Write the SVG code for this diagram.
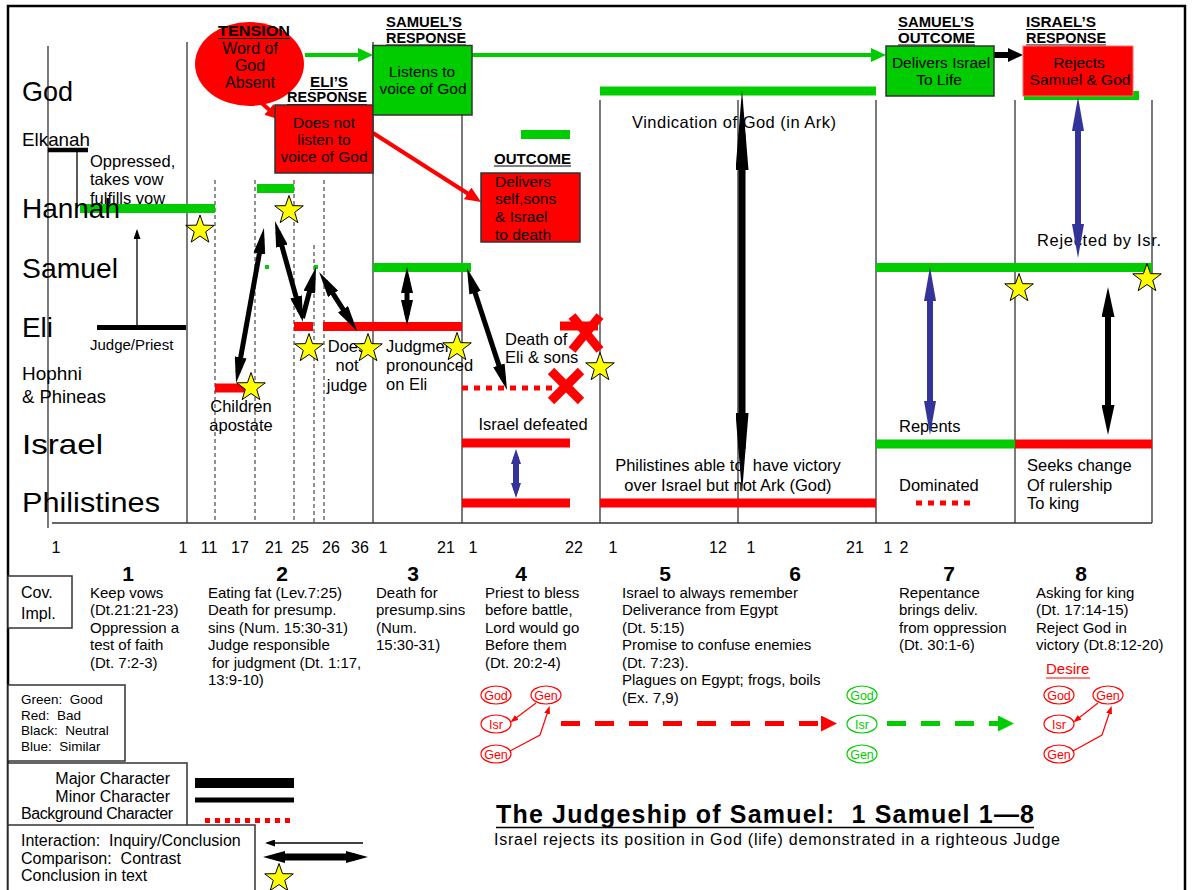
<svg xmlns="http://www.w3.org/2000/svg" width="1195" height="890" viewBox="0 0 1195 890">
<style>
text{font-family:"Liberation Sans",Arial,sans-serif;fill:#000}
.row{font-size:28px}
.rowS{font-size:19px}
.t{font-size:16.5px}
.bx{font-size:15.5px}
.hd{font-size:14px;font-weight:bold}
.bt{font-size:15px}
.num{font-size:16px}
.sec{font-size:21px;font-weight:bold}
.lg{font-size:13.5px}
.lg2{font-size:16px}
.mid{text-anchor:middle}
.grid{stroke:#333;stroke-width:1.3;fill:none}
.dsh{stroke:#222;stroke-width:1;stroke-dasharray:4 3;fill:none}
.gb{stroke:#00cc00;stroke-width:9;fill:none}
.rb{stroke:#ff0000;stroke-width:9;fill:none}
.rd{stroke:#ff0000;stroke-width:5;stroke-dasharray:6 6;fill:none}
.kb{stroke:#000;fill:none}
.ul{stroke:#000;stroke-width:1.2}
.ka{stroke:#000;stroke-width:5;fill:none}
.ba{stroke:#333399;stroke-width:6;fill:none}
.box{stroke:#333;stroke-width:1.5}
.star{fill:#ffff00;stroke:#000;stroke-width:1}
.xm{stroke:#ff0000;stroke-width:9}
.ovr{fill:#fff;stroke:#ff0000;stroke-width:1.2}
.ovg{fill:#fff;stroke:#00cc00;stroke-width:1.2}
.tr{font-size:12.5px;fill:#ff0000;text-anchor:middle}
.tg{font-size:12.5px;fill:#00cc00;text-anchor:middle}
.lgb{fill:#fff;stroke:#333;stroke-width:1.5}
</style>
<defs>
<polygon id="star" class="star" points="0,-15 3.53,-4.85 14.27,-4.64 5.71,1.85 8.82,12.14 0,6 -8.82,12.14 -5.71,1.85 -14.27,-4.64 -3.53,-4.85"/>
<marker id="mK" markerUnits="userSpaceOnUse" viewBox="0 0 26 12" markerWidth="26" markerHeight="12" refX="15" refY="6" orient="auto-start-reverse"><path d="M0,0L26,6L0,12z" fill="#000"/></marker>
<marker id="mKL" markerUnits="userSpaceOnUse" viewBox="0 0 30 13" markerWidth="30" markerHeight="13" refX="15" refY="6.5" orient="auto-start-reverse"><path d="M0,0L30,6.5L0,13z" fill="#000"/></marker>
<marker id="mKX" markerUnits="userSpaceOnUse" viewBox="0 0 80 13" markerWidth="80" markerHeight="13" refX="36" refY="6.5" orient="auto-start-reverse"><path d="M0,0L80,6.5L0,13z" fill="#000"/></marker>
<marker id="mKT" markerUnits="userSpaceOnUse" viewBox="0 0 15 14" markerWidth="15" markerHeight="14" refX="8" refY="7" orient="auto-start-reverse"><path d="M0,0L15,7L0,14z" fill="#000"/></marker>
<marker id="mB" markerUnits="userSpaceOnUse" viewBox="0 0 34 12" markerWidth="34" markerHeight="12" refX="17" refY="6" orient="auto-start-reverse"><path d="M0,0L34,6L0,12z" fill="#333399"/></marker>
<marker id="mBS" markerUnits="userSpaceOnUse" viewBox="0 0 15 10" markerWidth="15" markerHeight="10" refX="7" refY="5" orient="auto-start-reverse"><path d="M0,0L15,5L0,10z" fill="#333399"/></marker>
<marker id="mG" markerUnits="userSpaceOnUse" viewBox="0 0 15 14" markerWidth="15" markerHeight="14" refX="10" refY="7" orient="auto-start-reverse"><path d="M0,0L15,7L0,14z" fill="#00cc00"/></marker>
<marker id="mR" markerUnits="userSpaceOnUse" viewBox="0 0 16 14" markerWidth="16" markerHeight="14" refX="10" refY="7" orient="auto-start-reverse"><path d="M0,0L16,7L0,14z" fill="#ff0000"/></marker>
<marker id="mRt" markerUnits="userSpaceOnUse" viewBox="0 0 8 6" markerWidth="8" markerHeight="6" refX="6" refY="3" orient="auto-start-reverse"><path d="M0,0L8,3L0,6z" fill="#ff0000"/></marker>
<marker id="mRD" markerUnits="userSpaceOnUse" viewBox="0 0 16 16" markerWidth="16" markerHeight="16" refX="10" refY="8" orient="auto-start-reverse"><path d="M0,0L16,8L0,16z" fill="#ff0000"/></marker>
<marker id="mGD" markerUnits="userSpaceOnUse" viewBox="0 0 16 16" markerWidth="16" markerHeight="16" refX="10" refY="8" orient="auto-start-reverse"><path d="M0,0L16,8L0,16z" fill="#00cc00"/></marker>
<marker id="mLs" markerUnits="userSpaceOnUse" viewBox="0 0 10 7" markerWidth="10" markerHeight="7" refX="8" refY="3.5" orient="auto-start-reverse"><path d="M0,0L10,3.5L0,7z" fill="#000"/></marker>
<marker id="mLT" markerUnits="userSpaceOnUse" viewBox="0 0 22 12" markerWidth="22" markerHeight="12" refX="9" refY="6" orient="auto-start-reverse"><path d="M0,0L22,6L0,12z" fill="#000"/></marker>
</defs>

<rect width="1195" height="890" fill="#fff"/>
<!-- outer frame -->
<rect x="8" y="6" width="1177" height="900" fill="none" stroke="#000" stroke-width="2.5"/>

<!-- timeline grid -->
<g id="grid">
<line class="grid" x1="48" y1="46" x2="48" y2="528"/>
<line class="grid" x1="187" y1="42" x2="187" y2="523"/>
<line class="grid" x1="373" y1="42" x2="373" y2="523"/>
<line class="grid" x1="462" y1="115" x2="462" y2="523"/>
<line class="grid" x1="600" y1="100" x2="600" y2="523"/>
<line class="grid" x1="738" y1="100" x2="738" y2="523"/>
<line class="grid" x1="876" y1="100" x2="876" y2="523"/>
<line class="grid" x1="1015" y1="100" x2="1015" y2="523"/>
<line class="grid" x1="1152" y1="100" x2="1152" y2="523"/>
<line class="grid" x1="52" y1="523" x2="1152" y2="523"/>
<line class="dsh" x1="215" y1="180" x2="215" y2="523"/>
<line class="dsh" x1="255" y1="180" x2="255" y2="523"/>
<line class="dsh" x1="294" y1="180" x2="294" y2="523"/>
<line class="dsh" x1="314" y1="245" x2="314" y2="523"/>
<line class="dsh" x1="324" y1="180" x2="324" y2="523"/>
</g>

<!-- character lines -->
<g id="bars">
<line class="kb" x1="48" y1="150" x2="88" y2="150" stroke-width="4.5"/>
<line class="kb" x1="77" y1="150" x2="77" y2="208" stroke-width="1.3"/>
<line class="gb" x1="80" y1="208.5" x2="215" y2="208.5"/>
<line class="gb" x1="257" y1="188.5" x2="294" y2="188.5"/>
<line class="gb" x1="521" y1="134.5" x2="570" y2="134.5"/>
<line class="gb" x1="600" y1="91" x2="876" y2="91"/>
<line class="gb" x1="1024" y1="95.5" x2="1139" y2="95.5"/>
<line class="gb" x1="373" y1="267.5" x2="471" y2="267.5"/>
<line class="gb" x1="876" y1="267.5" x2="1152" y2="267.5"/>
<line class="gb" x1="876" y1="444" x2="1015" y2="444"/>
<rect x="255" y="265" width="4" height="4" fill="#00cc00"/>
<rect x="265" y="265" width="4" height="4" fill="#00cc00"/>
<rect x="314" y="265" width="4" height="4" fill="#00cc00"/>
<line class="kb" x1="97" y1="327.5" x2="186" y2="327.5" stroke-width="5"/>
<line class="rb" x1="294" y1="326.5" x2="313" y2="326.5"/>
<line class="rb" x1="323" y1="326.5" x2="462" y2="326.5"/>
<line class="rb" x1="560" y1="326" x2="598" y2="326"/>
<line class="rb" x1="215" y1="388" x2="245" y2="388"/>
<line class="rd" x1="462" y1="388" x2="556" y2="388"/>
<line class="rb" x1="462" y1="443" x2="570" y2="443"/>
<line class="rb" x1="462" y1="503" x2="570" y2="503"/>
<line class="rb" x1="600" y1="503" x2="876" y2="503"/>
<line class="rb" x1="1015" y1="444" x2="1152" y2="444"/>
<line class="rd" x1="916" y1="503" x2="970" y2="503" stroke-dasharray="6 4"/>
</g>

<!-- row labels -->
<g id="rows">
<text class="row" x="22" y="101" textLength="51" lengthAdjust="spacingAndGlyphs">God</text>
<text class="rowS" x="22" y="146" textLength="68" lengthAdjust="spacingAndGlyphs">Elkanah</text>
<text class="row" x="22" y="218" textLength="98" lengthAdjust="spacingAndGlyphs">Hannah</text>
<text class="row" x="22" y="278" textLength="96" lengthAdjust="spacingAndGlyphs">Samuel</text>
<text class="row" x="22" y="337" textLength="31" lengthAdjust="spacingAndGlyphs">Eli</text>
<text class="rowS" x="22" y="380" textLength="60" lengthAdjust="spacingAndGlyphs">Hophni</text>
<text class="rowS" x="22" y="403" textLength="84" lengthAdjust="spacingAndGlyphs">&amp; Phineas</text>
<text class="row" x="22" y="454" textLength="81" lengthAdjust="spacingAndGlyphs">Israel</text>
<text class="row" x="22" y="512" textLength="138" lengthAdjust="spacingAndGlyphs">Philistines</text>
</g>

<!-- red arrows leaving the tension node and Eli's response, green word-of-God line -->
<g id="connectors">
<line x1="258" y1="100" x2="276.5" y2="116" stroke="#ff0000" stroke-width="4" marker-end="url(#mR)"/>
<line x1="373" y1="133" x2="476" y2="198.8" stroke="#ff0000" stroke-width="4" marker-end="url(#mR)"/>
<line x1="305" y1="55" x2="368" y2="55" stroke="#00cc00" stroke-width="4" marker-end="url(#mG)"/>
<line x1="472" y1="55" x2="881" y2="55" stroke="#00cc00" stroke-width="4" marker-end="url(#mG)"/>
<line x1="994" y1="55" x2="1016" y2="55" stroke="#000" stroke-width="6" marker-end="url(#mKT)"/>
</g>

<g id="tension">
<ellipse cx="249.5" cy="64" rx="54.5" ry="42" fill="#ff0000"/>
<text class="hd" x="218" y="35.5" textLength="72" lengthAdjust="spacingAndGlyphs">TENSION</text>
<line class="ul" x1="218" y1="38.5" x2="290" y2="38.5"/>
<text x="250" y="54" class="mid" font-size="16">Word of</text>
<text x="250" y="71" class="mid" font-size="16">God</text>
<text x="250" y="88" class="mid" font-size="16">Absent</text>
</g>

<g id="eli-response">
<text class="hd" x="310" y="87" textLength="38" lengthAdjust="spacingAndGlyphs">ELI’S</text>
<line class="ul" x1="310" y1="89.5" x2="348" y2="89.5"/>
<text class="hd" x="287" y="102" textLength="80" lengthAdjust="spacingAndGlyphs">RESPONSE</text>
<line class="ul" x1="287" y1="104.5" x2="367" y2="104.5"/>
<rect class="box" x="275" y="105" width="98" height="68" fill="#ff0000"/>
<text class="bx mid" x="324" y="127.5">Does not</text>
<text class="bx mid" x="324" y="145">listen to</text>
<text class="bx mid" x="324" y="162">voice of God</text>
</g>

<g id="samuel-response">
<text class="hd" x="386" y="27" textLength="76" lengthAdjust="spacingAndGlyphs">SAMUEL’S</text>
<line class="ul" x1="386" y1="29.5" x2="462" y2="29.5"/>
<text class="hd" x="386" y="43" textLength="80" lengthAdjust="spacingAndGlyphs">RESPONSE</text>
<line class="ul" x1="386" y1="45" x2="466" y2="45"/>
<rect class="box" x="373" y="45.5" width="99" height="69.5" fill="#00cc00"/>
<text class="bx mid" x="422" y="77">Listens to</text>
<text class="bx mid" x="423" y="94">voice of God</text>
</g>

<g id="outcome">
<text class="hd" x="494" y="163.5" textLength="77" lengthAdjust="spacingAndGlyphs">OUTCOME</text>
<line class="ul" x1="494" y1="166" x2="571" y2="166"/>
<rect class="box" x="481" y="173" width="99" height="69" fill="#ff0000"/>
<text class="bx" x="495" y="187">Delivers</text>
<text class="bx" x="495" y="204">self,sons</text>
<text class="bx" x="495" y="222">&amp; Israel</text>
<text class="bx" x="495" y="239.5">to death</text>
</g>

<g id="samuel-outcome">
<text class="hd" x="898" y="27" textLength="76" lengthAdjust="spacingAndGlyphs">SAMUEL’S</text>
<line class="ul" x1="898" y1="29.5" x2="974" y2="29.5"/>
<text class="hd" x="898" y="43" textLength="77" lengthAdjust="spacingAndGlyphs">OUTCOME</text>
<line class="ul" x1="898" y1="45" x2="975" y2="45"/>
<rect class="box" x="886" y="46" width="108" height="50" fill="#00cc00"/>
<text class="bx mid" x="941" y="67.5">Delivers Israel</text>
<text class="bx mid" x="939" y="85">To Life</text>
</g>

<g id="israel-response">
<text class="hd" x="1026" y="27" textLength="70" lengthAdjust="spacingAndGlyphs">ISRAEL’S</text>
<line class="ul" x1="1026" y1="29.5" x2="1096" y2="29.5"/>
<text class="hd" x="1026" y="43" textLength="80" lengthAdjust="spacingAndGlyphs">RESPONSE</text>
<line class="ul" x1="1026" y1="45" x2="1106" y2="45"/>
<rect x="1023" y="46" width="110" height="50" fill="#ff0000" stroke="#ff6a6a" stroke-width="1"/>
<text class="bx mid" x="1079" y="67.5">Rejects</text>
<text class="bx mid" x="1080" y="85">Samuel &amp; God</text>
</g>

<!-- annotations on the timeline -->
<g id="notes">
<text class="t" x="90" y="167">Oppressed,</text>
<text class="t" x="90" y="185">takes vow</text>
<text class="t" x="90" y="204">fulfills vow</text>
<text x="90" y="350" font-size="15">Judge/Priest</text>
<text class="t mid" x="241" y="412">Children</text>
<text class="t mid" x="241" y="431">apostate</text>
<text class="t mid" x="347" y="352">Does</text>
<text class="t mid" x="347" y="371">not</text>
<text class="t mid" x="347" y="391">judge</text>
<text class="t" x="386" y="352">Judgment</text>
<text class="t" x="386" y="371">pronounced</text>
<text class="t" x="386" y="390">on Eli</text>
<text class="t" x="505" y="345">Death of</text>
<text class="t" x="505" y="362.5">Eli &amp; sons</text>
<text class="t mid" x="533" y="430">Israel defeated</text>
<text class="t" x="632" y="127.5" textLength="204">Vindication of God (in Ark)</text>
<text class="t mid" x="728" y="470.5" xml:space="preserve">Philistines able to  have victory</text>
<text class="t mid" x="728" y="490.5">over Israel but not Ark (God)</text>
<text class="t" x="1037" y="245.5" textLength="124">Rejected by Isr.</text>
<text class="t" x="899" y="431.5">Repents</text>
<text class="t" x="899" y="490.5">Dominated</text>
<text class="t" x="1027" y="471">Seeks change</text>
<text class="t" x="1027" y="490.5">Of rulership</text>
<text class="t" x="1027" y="509">To king</text>
</g>

<!-- interaction and comparison arrows -->
<g id="timeline-connectors">
<line x1="137" y1="325" x2="137" y2="231" stroke="#000" stroke-width="1.3" marker-end="url(#mLs)"/>
<line class="ka" x1="262" y1="238.8" x2="238" y2="372.2" marker-start="url(#mK)" marker-end="url(#mK)"/>
<line class="ka" x1="277.9" y1="231.6" x2="300.1" y2="311.4" marker-start="url(#mK)" marker-end="url(#mK)"/>
<line class="ka" x1="302.5" y1="318" x2="313.2" y2="277.6" marker-end="url(#mK)"/>
<line class="ka" x1="325" y1="281.2" x2="351.1" y2="321.8" marker-start="url(#mK)" marker-end="url(#mK)"/>
<line class="ka" x1="407" y1="278" x2="407" y2="315" marker-start="url(#mK)" marker-end="url(#mK)"/>
<line class="ka" x1="470.4" y1="278.5" x2="503.6" y2="379.6" marker-start="url(#mK)" marker-end="url(#mK)"/>
<line x1="742" y1="134" x2="742" y2="449" stroke="#000" stroke-width="7" marker-start="url(#mKX)" marker-end="url(#mKX)"/>
<line x1="1108" y1="302" x2="1108" y2="420" stroke="#000" stroke-width="6" marker-start="url(#mKL)" marker-end="url(#mKL)"/>
<line class="ba" x1="1078" y1="114" x2="1078" y2="241" marker-start="url(#mB)" marker-end="url(#mB)"/>
<line class="ba" x1="930" y1="284" x2="930" y2="418" marker-start="url(#mB)" marker-end="url(#mB)"/>
<line class="ba" x1="516" y1="457" x2="516" y2="490" stroke-width="5" marker-start="url(#mBS)" marker-end="url(#mBS)"/>
</g>

<!-- death marks -->
<g id="death-marks">
<line class="xm" x1="572" y1="316" x2="600" y2="350"/>
<line class="xm" x1="600" y1="316" x2="572" y2="350"/>
<line class="xm" x1="551" y1="371" x2="581" y2="401"/>
<line class="xm" x1="581" y1="371" x2="551" y2="401"/>
</g>

<!-- conclusions in text -->
<g id="stars">
<use href="#star" x="200" y="230"/>
<use href="#star" x="289" y="210.5"/>
<use href="#star" x="251" y="387.5"/>
<use href="#star" x="309" y="348.5"/>
<use href="#star" x="368" y="348.5"/>
<use href="#star" x="457" y="347.5"/>
<use href="#star" x="600" y="367.5"/>
<use href="#star" x="1019" y="288.5"/>
<use href="#star" x="1147" y="278.5"/>
</g>

<!-- chapter numbers -->
<g id="chapters">
<text class="num mid" x="56" y="553">1</text>
<text class="num mid" x="183" y="553">1</text>
<text class="num mid" x="209" y="553">11</text>
<text class="num mid" x="240" y="553">17</text>
<text class="num mid" x="274" y="553">21</text>
<text class="num mid" x="300" y="553">25</text>
<text class="num mid" x="331" y="553">26</text>
<text class="num mid" x="360" y="553">36</text>
<text class="num mid" x="383" y="553">1</text>
<text class="num mid" x="446" y="553">21</text>
<text class="num mid" x="473" y="553">1</text>
<text class="num mid" x="574" y="553">22</text>
<text class="num mid" x="613" y="553">1</text>
<text class="num mid" x="718" y="553">12</text>
<text class="num mid" x="751" y="553">1</text>
<text class="num mid" x="855" y="553">21</text>
<text class="num mid" x="888" y="553">1</text>
<text class="num mid" x="904" y="553">2</text>
<text class="sec mid" x="128" y="581">1</text>
<text class="sec mid" x="282" y="581">2</text>
<text class="sec mid" x="413" y="581">3</text>
<text class="sec mid" x="521" y="581">4</text>
<text class="sec mid" x="665" y="581">5</text>
<text class="sec mid" x="795" y="581">6</text>
<text class="sec mid" x="949" y="581">7</text>
<text class="sec mid" x="1081" y="581">8</text>
</g>

<!-- covenant implications -->
<g id="cov-impl">
<rect class="lgb" x="8" y="576" width="64" height="52"/>
<text x="21" y="598" font-size="16">Cov.</text>
<text x="21" y="619" font-size="16">Impl.</text>
<text class="bt" x="90" y="597.5">Keep vows</text>
<text class="bt" x="90" y="615">(Dt.21:21-23)</text>
<text class="bt" x="90" y="632.5">Oppression a</text>
<text class="bt" x="90" y="650">test of faith</text>
<text class="bt" x="90" y="667.5">(Dt. 7:2-3)</text>
<text class="bt" x="208" y="597.5">Eating fat (Lev.7:25)</text>
<text class="bt" x="208" y="615">Death for presump.</text>
<text class="bt" x="208" y="632.5">sins (Num. 15:30-31)</text>
<text class="bt" x="208" y="650">Judge responsible</text>
<text class="bt" x="212" y="667.5">for judgment (Dt. 1:17,</text>
<text class="bt" x="208" y="685">13:9-10)</text>
<text class="bt" x="376" y="597.5">Death for</text>
<text class="bt" x="376" y="615">presump.sins</text>
<text class="bt" x="376" y="632.5">(Num.</text>
<text class="bt" x="376" y="650">15:30-31)</text>
<text class="bt" x="485" y="597.5">Priest to bless</text>
<text class="bt" x="485" y="615">before battle,</text>
<text class="bt" x="485" y="632.5">Lord would go</text>
<text class="bt" x="485" y="650">Before them</text>
<text class="bt" x="485" y="667.5">(Dt. 20:2-4)</text>
<text class="bt" x="622" y="597.5">Israel to always remember</text>
<text class="bt" x="622" y="615">Deliverance from Egypt</text>
<text class="bt" x="622" y="632.5">(Dt. 5:15)</text>
<text class="bt" x="622" y="650">Promise to confuse enemies</text>
<text class="bt" x="622" y="667.5">(Dt. 7:23).</text>
<text class="bt" x="622" y="685">Plagues on Egypt; frogs, boils</text>
<text class="bt" x="622" y="702.5">(Ex. 7,9)</text>
<text class="bt" x="899" y="597.5">Repentance</text>
<text class="bt" x="899" y="615">brings deliv.</text>
<text class="bt" x="899" y="632.5">from oppression</text>
<text class="bt" x="899" y="650">(Dt. 30:1-6)</text>
<text class="bt" x="1036" y="597.5">Asking for king</text>
<text class="bt" x="1036" y="615">(Dt. 17:14-15)</text>
<text class="bt" x="1036" y="632.5">Reject God in</text>
<text class="bt" x="1036" y="650">victory (Dt.8:12-20)</text>
</g>

<!-- relationship diagrams -->
<g id="rel-bad">
<ellipse class="ovr" cx="496" cy="695" rx="15" ry="9"/>
<ellipse class="ovr" cx="546" cy="695" rx="15" ry="9"/>
<ellipse class="ovr" cx="496" cy="724" rx="15" ry="9"/>
<ellipse class="ovr" cx="496" cy="754" rx="15" ry="9"/>
<text class="tr" x="496" y="699.5">God</text>
<text class="tr" x="546" y="699.5">Gen</text>
<text class="tr" x="496" y="728.5">Isr</text>
<text class="tr" x="496" y="758.5">Gen</text>
<line x1="536" y1="703" x2="512" y2="721" stroke="#ff0000" stroke-width="1.2" marker-end="url(#mRt)"/>
<polyline points="510,751 540,735 549,708" fill="none" stroke="#ff0000" stroke-width="1.2" marker-end="url(#mRt)"/>
</g>
<g id="rel-good">
<ellipse class="ovg" cx="862" cy="695" rx="15" ry="9"/>
<ellipse class="ovg" cx="862" cy="724" rx="15" ry="9"/>
<ellipse class="ovg" cx="862" cy="754" rx="15" ry="9"/>
<text class="tg" x="862" y="699.5">God</text>
<text class="tg" x="862" y="728.5">Isr</text>
<text class="tg" x="862" y="758.5">Gen</text>
</g>
<g id="rel-desire">
<text x="1046" y="674" font-size="15" style="fill:#ff0000">Desire</text>
<line x1="1046" y1="678" x2="1090" y2="678" stroke="#ff0000" stroke-width="1.2"/>
<ellipse class="ovr" cx="1059" cy="695" rx="15" ry="9"/>
<ellipse class="ovr" cx="1108" cy="695" rx="15" ry="9"/>
<ellipse class="ovr" cx="1059" cy="724" rx="15" ry="9"/>
<ellipse class="ovr" cx="1059" cy="754" rx="15" ry="9"/>
<text class="tr" x="1059" y="699.5">God</text>
<text class="tr" x="1108" y="699.5">Gen</text>
<text class="tr" x="1059" y="728.5">Isr</text>
<text class="tr" x="1059" y="758.5">Gen</text>
<line x1="1098" y1="703" x2="1075" y2="721" stroke="#ff0000" stroke-width="1.2" marker-end="url(#mRt)"/>
<polyline points="1073,751 1102,735 1111,708" fill="none" stroke="#ff0000" stroke-width="1.2" marker-end="url(#mRt)"/>
</g>
<g id="rel-connectors">
<line x1="561" y1="723.5" x2="831" y2="723.5" stroke="#ff0000" stroke-width="5" stroke-dasharray="19 15" marker-end="url(#mRD)"/>
<line x1="887" y1="723.5" x2="1008" y2="723.5" stroke="#00cc00" stroke-width="5" stroke-dasharray="19 15" marker-end="url(#mGD)"/>
</g>

<!-- key -->
<g id="legend-colours">
<rect class="lgb" x="8" y="685" width="117" height="76"/>
<text class="lg" x="21" y="704">Green:&#160; Good</text>
<text class="lg" x="21" y="719.5">Red:&#160; Bad</text>
<text class="lg" x="21" y="735">Black:&#160; Neutral</text>
<text class="lg" x="21" y="751">Blue:&#160; Similar</text>
</g>
<g id="legend-lines">
<rect class="lgb" x="8" y="763" width="179" height="66"/>
<text class="lg2" x="170" y="784" text-anchor="end">Major Character</text>
<text class="lg2" x="170" y="801.5" text-anchor="end">Minor Character</text>
<text class="lg2" x="21" y="818.5" textLength="152">Background Character</text>
<line x1="195" y1="783" x2="294" y2="783" stroke="#000" stroke-width="10"/>
<line x1="195" y1="800" x2="294" y2="800" stroke="#000" stroke-width="5"/>
<line x1="205" y1="820.5" x2="294" y2="820.5" stroke="#ff0000" stroke-width="5" stroke-dasharray="5 5"/>
</g>
<g id="legend-arrows">
<rect class="lgb" x="8" y="825" width="247" height="80"/>
<text class="lg2" x="21" y="846">Interaction:&#160; Inquiry/Conclusion</text>
<text class="lg2" x="21" y="863.5">Comparison:&#160; Contrast</text>
<text class="lg2" x="21" y="880.5">Conclusion in text</text>
<line x1="363" y1="843" x2="267" y2="843" stroke="#000" stroke-width="1.3" marker-end="url(#mLs)"/>
<line x1="276" y1="857" x2="355" y2="857" stroke="#000" stroke-width="7" marker-start="url(#mLT)" marker-end="url(#mLT)"/>
<use href="#star" x="279" y="878.5"/>
</g>

<g id="title">
<text x="496" y="823" font-size="25" font-weight="bold" textLength="538">The Judgeship of Samuel:&#160; 1 Samuel 1—8</text>
<line x1="496" y1="827.5" x2="1034" y2="827.5" stroke="#000" stroke-width="1.5"/>
<text x="494" y="845" font-size="16" textLength="566">Israel rejects its position in God (life) demonstrated in a righteous Judge</text>
</g>
</svg>
